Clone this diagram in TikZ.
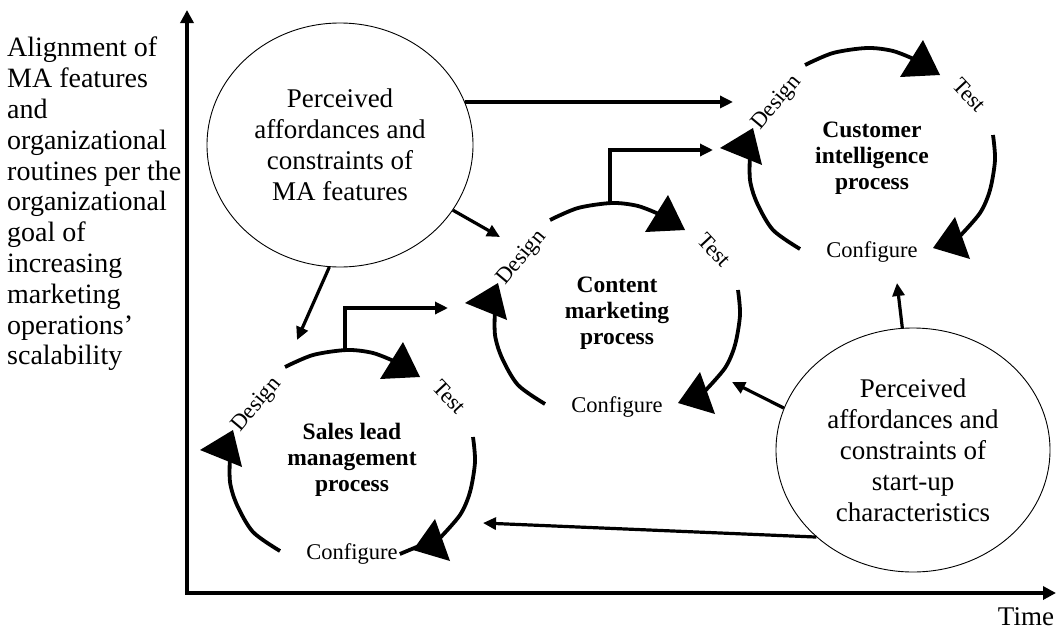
\documentclass[tikz,border=0pt]{standalone}
\usepackage{fontspec}
\setmainfont{Liberation Serif}
\usetikzlibrary{arrows.meta,shapes.geometric}
\tikzset{
  arr/.style={line width=3.2pt, -{Triangle[length=13pt,width=12pt]}},
  axisline/.style={line width=3.6pt, {Triangle[length=13pt,width=13pt]}-{Triangle[length=13pt,width=13pt]}},
  cycline/.style={line width=3.8pt},
  bigell/.style={draw, ellipse, line width=0.9pt, inner sep=0pt, align=center, font=\fontsize{27}{31}\selectfont},
  lblsmall/.style={font=\fontsize{22.5}{25.8}\selectfont, inner sep=0pt},
  lblbold/.style={font=\fontsize{23.5}{26}\selectfont\bfseries, align=center, inner sep=0pt},
  pics/proccycle/.style={code={
    \draw[cycline] plot[smooth] coordinates {(-67,-90) (-39,-102) (-5,-107) (21,-104) (44,-95)};
    \fill (51,-115) -- (28,-78) -- (68,-80) -- cycle;
    \draw[cycline] plot[smooth] coordinates {(121,-20) (123,5) (118,35) (108,58) (87,82)};
    \fill (83,62) -- (61,93) -- (98,104) -- cycle;
    \draw[cycline] plot[smooth] coordinates {(-72,94) (-99,75) (-115,48) (-122,25) (-122,-2)};
    \fill (-152,-7) -- (-119,-27) -- (-110,10) -- cycle;
    \node[lblsmall, rotate=50] (-design) at (-95,-52) {Design};
    \node[lblsmall, rotate=-47] (-test) at (97,-60) {Test};
    \node[lblsmall] (-conf) at (0,97) {Configure};
    \node[lblbold] (-name) at (0,3) {#1};
    \coordinate (-top) at (-7,-107);
  }}
}
\begin{document}
\begin{tikzpicture}[x=1pt,y=-1pt]
\useasboundingbox (0,0) rectangle (1057,632);
% axes
\coordinate (yend) at (187,10);
\coordinate (orig) at (187,593);
\coordinate (xend) at (1056,593);
\draw[axisline] (yend) -- (orig) -- (xend);
\node[font=\fontsize{27}{31}\selectfont, inner sep=0pt] (time) at (1026,617) {Time};
\node[font=\fontsize{28}{30.8}\selectfont, align=left, anchor=north west, inner sep=0pt] (ylabel) at (7,37)
  {Alignment of\\MA features\\and\\organizational\\routines per the\\organizational\\goal of\\increasing\\marketing\\operations'\\scalability};
% ellipses
\node[bigell, minimum width=266pt, minimum height=244pt] (e1) at (340,145)
  {Perceived\\affordances and\\constraints of\\MA features};
\node[bigell, minimum width=274pt, minimum height=244pt] (e2) at (913,450)
  {Perceived\\affordances and\\constraints of\\start-up\\characteristics};
% cycles
\pic (sales) at (352,457) {proccycle={Sales lead\\management\\process}};
\pic (content) at (617,310) {proccycle={Content\\marketing\\process}};
\pic (cust) at (872,155) {proccycle={Customer\\intelligence\\process}};
\draw[cycline] ([xshift=2pt]sales-conf.east) -- ++(24,-10);
% connector targets
\coordinate (c1) at (733,102);
\coordinate (c2) at (500,237);
\coordinate (c3) at (297,340);
\coordinate (c4) at (448,308);
\coordinate (c5) at (713,150);
\coordinate (c6) at (897,283);
\coordinate (c7) at (732,382);
\coordinate (c8) at (483,523);
% connectors
\draw[arr] (e1.19) -- (e1.19 -| c1);
\draw[arr] (e1.-30) -- (c2);
\draw[arr] (e1.-95) -- (c3);
\draw[arr] (sales-top) |- (c4);
\draw[arr] (content-top) |- (c5);
\draw[arr] (e2.95) -- (c6);
\draw[arr] (e2.162) -- (c7);
\draw[arr] (e2.222) -- (c8);
\end{tikzpicture}
\end{document}
